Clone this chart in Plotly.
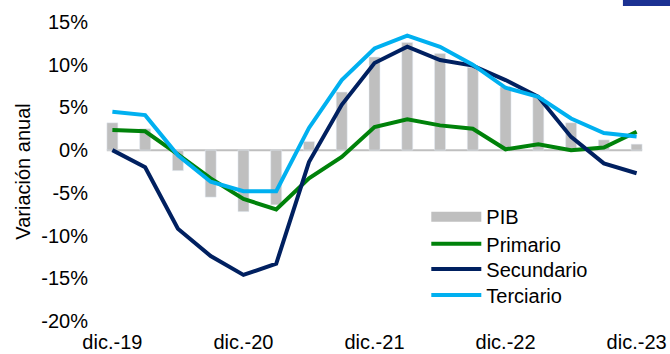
import plotly.graph_objects as go

# Quarterly periods, Dec-2019 to Dec-2023
trimestres = ["dic.-19", "mar.-20", "jun.-20", "sep.-20",
              "dic.-20", "mar.-21", "jun.-21", "sep.-21",
              "dic.-21", "mar.-22", "jun.-22", "sep.-22",
              "dic.-22", "mar.-23", "jun.-23", "sep.-23",
              "dic.-23"]

# Annual variation (%)
pib = [3.2, 2.5, -2.4, -5.5, -7.2, -6.4, 1.0, 6.8, 10.9, 12.6,
       11.3, 9.7, 7.4, 6.2, 3.2, 1.2, 0.7]
primario = [2.35, 2.2, -0.5, -3.3, -5.7, -6.95, -3.3, -0.8, 2.7, 3.6,
            2.9, 2.5, 0.1, 0.7, 0.0, 0.3, 2.15]
secundario = [0.0, -2.0, -9.2, -12.4, -14.6, -13.3, -1.4, 5.3, 10.2, 12.1,
              10.55, 9.9, 8.2, 6.25, 1.55, -1.55, -2.7]
terciario = [4.5, 4.1, -0.6, -3.7, -4.8, -4.8, 2.6, 8.2, 11.9, 13.4,
             12.1, 10.0, 7.3, 6.25, 3.7, 2.0, 1.6]

etiquetas_x = ["dic.-19", "dic.-20", "dic.-21", "dic.-22", "dic.-23"]
valores_y = [15, 10, 5, 0, -5, -10, -15, -20]
etiquetas_y = ["15%", "10%", "5%", "0%", "-5%", "-10%", "-15%", "-20%"]

GRIS = "#bfbfbf"
VERDE = "#00820a"
NAVY = "#002060"
CELESTE = "#00b0f0"
FUENTE = "Liberation Sans, Arial, sans-serif"
TAM = 20

fig = go.Figure()

fig.add_trace(go.Bar(x=trimestres, y=pib, name="PIB", marker_color=GRIS,
                     showlegend=False))
# Legend key for the GDP bars (wide grey swatch)
fig.add_trace(go.Scatter(x=[None], y=[None], mode="lines", name="PIB",
                         line=dict(color=GRIS, width=10), legend="legend"))
for nombre, serie, color, ley in [("Primario", primario, VERDE, "legend2"),
                                  ("Secundario", secundario, NAVY, "legend3"),
                                  ("Terciario", terciario, CELESTE, "legend4")]:
    fig.add_trace(go.Scatter(x=trimestres, y=serie, mode="lines", name=nombre,
                             line=dict(color=color, width=4), legend=ley))

# Horizontal axis line at 0%
fig.add_shape(type="line", xref="x", yref="y", x0=-0.17, x1=16.17, y0=0, y1=0,
              line=dict(color=GRIS, width=2), layer="below")

# Corner accent bar
fig.add_shape(type="rect", xref="paper", yref="paper",
              x0=0.946, x1=1.04, y0=1.0535, y1=1.08,
              line=dict(width=0), fillcolor="#1b3192")

# One legend box per row so the rows sit at a fixed spacing
filas = {"legend": 0.349, "legend2": 0.258, "legend3": 0.174, "legend4": 0.087}
estilo_leyenda = dict(x=0.593, xanchor="left", yanchor="middle",
                      bgcolor="rgba(0,0,0,0)", itemwidth=50,
                      font=dict(family=FUENTE, size=TAM, color="#000000"))

fig.update_layout(
    width=670, height=354,
    margin=dict(l=96, r=17, t=22, b=33),
    paper_bgcolor="white", plot_bgcolor="white",
    font=dict(family=FUENTE, size=TAM, color="#000000"),
    bargap=0.665,
    showlegend=True,
    **{k: dict(y=v, **estilo_leyenda) for k, v in filas.items()},
)

fig.update_xaxes(type="category", categoryorder="array", categoryarray=trimestres,
                 range=[-0.5, 16.5], tickvals=etiquetas_x, ticktext=etiquetas_x,
                 showgrid=False, showline=False, zeroline=False, ticks="",
                 automargin=False, ticklabelstandoff=7,
                 tickfont=dict(size=TAM))
fig.update_yaxes(range=[-20, 15], tickvals=valores_y, ticktext=etiquetas_y,
                 showgrid=False, showline=False, zeroline=False, ticks="",
                 automargin=False, ticklabelstandoff=7,
                 tickfont=dict(size=TAM),
                 title=dict(text="Variación anual", standoff=5,
                            font=dict(size=TAM)))

fig.write_html("out.html")
